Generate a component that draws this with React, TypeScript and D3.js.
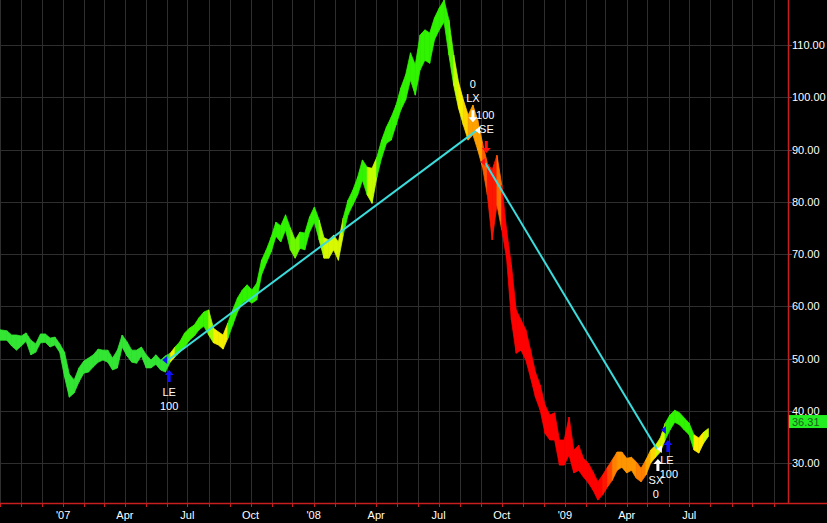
import React from "react";
import * as d3 from "d3";

const WIDTH = 827;
const HEIGHT = 523;
const PLOT_RIGHT = 788;
const PLOT_BOTTOM = 503;

// weekly bars, first one dated (Wednesday) 2006-10-04
const firstWeek = "2006-10-04";
const weeklyHigh = [
  55.5, 55.3, 54.5, 54.5, 54.3, 54.9, 53.5, 52.8, 54.7, 54.7,
  53.9, 54.1, 52.8, 51.2, 47.0, 45.9, 48.2, 49.5, 50.1, 50.7,
  51.8, 51.6, 51.6, 50.1, 51.6, 54.5, 53.2, 51.6, 51.6, 52.2,
  50.7, 49.7, 50.7, 49.7, 50.5, 51.0, 52.2, 53.2, 54.9, 55.8,
  56.4, 57.8, 58.9, 59.3, 55.8, 55.1, 54.5, 56.8, 59.3, 61.6,
  63.1, 64.1, 63.1, 64.4, 68.8, 70.8, 73.2, 76.1, 75.4, 77.5,
  75.0, 72.7, 74.2, 74.0, 77.1, 79.0, 76.5, 73.1, 72.7, 73.6,
  72.3, 76.9, 80.3, 82.2, 84.7, 88.0, 86.6, 86.4, 88.5, 91.8,
  94.3, 96.2, 98.5, 101.8, 104.3, 108.5, 106.2, 111.9, 112.9, 112.3,
  115.2, 117.1, 118.6, 114.8, 108.1, 102.9, 99.5, 96.6, 98.5, 95.6,
  91.2, 87.4, 86.1, 88.9, 83.2, 74.6, 67.9, 59.3, 57.4, 55.5,
  51.6, 47.4, 44.9, 41.1, 39.2, 39.6, 34.4, 34.4, 38.8, 32.5,
  33.4, 30.9, 30.0, 28.3, 26.4, 27.7, 29.2, 30.6, 32.1, 32.1,
  30.9, 31.1, 30.2, 29.0, 30.6, 32.5, 33.4, 34.8, 37.6, 39.2,
  40.1, 39.6, 38.6, 37.6, 35.4, 34.8, 35.9, 36.6,
];
const weeklyLow = [
  53.5, 53.5, 52.4, 51.6, 52.4, 53.3, 50.7, 51.2, 53.0, 53.1,
  52.2, 52.6, 51.2, 46.5, 42.6, 43.4, 45.5, 47.2, 47.4, 48.4,
  49.3, 49.7, 49.3, 47.8, 48.2, 52.2, 50.5, 49.3, 49.1, 50.5,
  48.2, 48.2, 48.9, 47.8, 47.4, 49.3, 50.3, 51.2, 52.2, 53.5,
  54.3, 55.5, 56.2, 54.5, 53.0, 52.6, 51.8, 53.9, 56.4, 58.9,
  60.6, 61.2, 60.6, 61.2, 66.0, 68.3, 70.4, 73.4, 72.3, 74.6,
  70.8, 69.2, 71.1, 70.8, 74.2, 76.1, 72.7, 69.2, 69.2, 70.8,
  68.8, 73.6, 77.5, 79.4, 81.3, 84.1, 81.3, 79.7, 84.7, 88.4,
  91.2, 91.8, 94.7, 97.6, 99.5, 103.3, 100.4, 105.2, 107.1, 106.5,
  111.0, 112.9, 114.4, 108.1, 102.3, 97.9, 94.7, 91.8, 92.8, 89.9,
  86.6, 81.3, 72.7, 79.4, 74.6, 69.2, 57.4, 51.0, 51.6, 49.7,
  46.3, 42.6, 40.1, 35.7, 34.4, 34.4, 29.6, 29.6, 31.5, 28.1,
  28.6, 27.3, 26.2, 24.8, 22.9, 23.9, 25.4, 26.7, 28.6, 29.2,
  28.1, 28.6, 27.1, 26.4, 27.7, 30.0, 31.1, 32.1, 34.4, 36.3,
  37.8, 37.3, 36.3, 35.4, 32.5, 31.9, 33.8, 35.1,
];
// bar colouring score (0 = red, 1 = green), one per bar from the first long entry (bar 35) on
const entryBar = 35;
const trendScore = [
  0.62, 0.85, 0.85, 0.85, 0.85, 0.85, 0.85, 0.85, 0.75, 0.62, // 35-44
  0.62, 0.62, 0.88, 0.88, 0.88, 0.88, 0.88, 0.88, 0.88, 0.88, // 45-54
  0.88, 0.88, 0.88, 0.88, 0.88, 0.8, 0.8, 0.88, 0.88, 0.88, // 55-64
  0.88, 0.75, 0.68, 0.68, 0.68, 0.68, 0.9, 0.9, 0.9, 0.9, // 65-74
  0.9, 0.72, 0.72, 0.92, 0.92, 0.92, 0.92, 0.92, 0.92, 0.92, // 75-84
  0.92, 0.92, 0.92, 0.92, 0.92, 0.92, 0.92, 0.92, 0.82, 0.72, // 85-94
  0.62, 0.55, 0.42, 0.42, 0.42, 0.2, 0.05, 0.05, 0.25, 0.0, // 95-104
  0.0, 0.0, 0.0, 0.0, 0.0, 0.0, 0.0, 0.0, 0.0, 0.0, // 105-114
  0.0, 0.0, 0.0, 0.0, 0.0, 0.0, 0.0, 0.0, 0.0, 0.0, // 115-124
  0.05, 0.15, 0.3, 0.38, 0.38, 0.38, 0.38, 0.3, 0.3, 0.45, // 125-134
  0.55, 0.68, 0.68, 0.92, 0.92, 0.92, 0.92, 0.92, 0.92, 0.6, // 135-144
  0.6, 0.7, 0.7, // 145-147
];

const yTicks = [30, 40, 50, 60, 70, 80, 90, 100, 110];
const lastPrice = 36.31;

const tradeEntryDates = ["2007-06-03", "2008-09-07"];
const tradeEntryPrices = [49.7, 87.4];
const tradeExitDates = ["2008-08-26", "2009-05-15"];
const tradeExitPrices = [93.7, 32.7];
const secondLongDate = "2009-05-31";
const secondLongPrice = 36.3;
const longExitDate = "2008-08-20";

const parse = d3.timeParse("%Y-%m-%d");
const FONT = "'Liberation Sans', Arial, sans-serif";

const x = d3
  .scaleTime()
  .domain([new Date(2006, 9, 1), new Date(2009, 10, 22)])
  .range([0, PLOT_RIGHT]);
const y = d3.scaleLinear().domain([30, 110]).range([463, 45]);

const colorRamp = d3
  .scaleLinear<string>()
  .domain([0, 0.25, 0.45, 0.6, 0.72, 0.86])
  .range(["#ff0000", "#ff7000", "#ffaa00", "#ffee00", "#c4ff00", "#30f400"])
  .clamp(true);
const preEntryColor = "#33e633";

function arrowPath(cx: number, tipY: number, dir: 1 | -1) {
  const p = [
    [0, 0], [-4.5, 5], [-1.5, 5], [-1.5, 12], [1.5, 12], [1.5, 5], [4.5, 5],
  ];
  return (
    "M" +
    p.map(([dx, dy]) => `${cx + dx},${tipY + dir * dy}`).join("L") +
    "Z"
  );
}
function leftTri(cx: number, cy: number) {
  return `M${cx - 3},${cy}L${cx + 2},${cy - 4}L${cx + 2},${cy + 4}Z`;
}

export default function App() {
  const start = parse(firstWeek)!;
  const dates = weeklyHigh.map((_, i) => d3.timeDay.offset(start, 7 * i));
  const xs = dates.map((d) => x(d));
  const colorOf = (i: number) =>
    i < entryBar ? preEntryColor : colorRamp(trendScore[i - entryBar]);

  const months = d3.timeMonth.range(new Date(2006, 9, 1), new Date(2009, 10, 22));
  const labelMonths = months.filter(
    (m) => m.getMonth() % 3 === 0 && m >= new Date(2007, 0, 1) && m <= new Date(2009, 6, 1)
  );
  const quarterLabel = (d: Date) =>
    d.getMonth() === 0 ? "'" + d3.timeFormat("%y")(d) : d3.timeFormat("%b")(d);

  const polys = [];
  for (let i = 0; i < xs.length - 1; i++) {
    const x0 = i === 0 ? 0 : xs[i];
    const x1 = xs[i + 1];
    const pts = [
      [x0, y(weeklyHigh[i])],
      [x1, y(weeklyHigh[i + 1])],
      [x1, y(weeklyLow[i + 1])],
      [x0, y(weeklyLow[i])],
    ];
    const c = colorOf(i);
    polys.push(
      <polygon
        key={i}
        points={pts.map((p) => p.join(",")).join(" ")}
        fill={c}
        stroke={c}
        strokeWidth={0.8}
        strokeLinejoin="round"
      />
    );
  }

  const le1x = x(parse(tradeEntryDates[0])!);
  const le1y = y(tradeEntryPrices[0]);
  const lxX = x(parse(longExitDate)!);
  const lxY = y(tradeExitPrices[0]);
  const seX = x(parse(tradeExitDates[0])!);
  const seY = y(tradeExitPrices[0]);
  const shX = x(parse(tradeEntryDates[1])!);
  const shY = y(tradeEntryPrices[1]);
  const sxX = x(parse(tradeExitDates[1])!);
  const sxY = y(tradeExitPrices[1]);
  const le2x = x(parse(secondLongDate)!);
  const le2y = y(secondLongPrice);

  const txt = (props: any, s: string) => (
    <text fontFamily={FONT} fontSize={11} fill="#ffffff" dominantBaseline="central" {...props}>
      {s}
    </text>
  );

  return (
    <svg
      width={WIDTH}
      height={HEIGHT}
      style={{ position: "absolute", left: 0, top: 0, background: "#000" }}
    >
      <rect x={0} y={0} width={WIDTH} height={HEIGHT} fill="#000" />
      {months.map((m, i) => (
        <line
          key={"vg" + i}
          x1={Math.round(x(m)) + 0.5}
          x2={Math.round(x(m)) + 0.5}
          y1={0}
          y2={PLOT_BOTTOM}
          stroke="#2e2e2e"
          strokeWidth={1}
        />
      ))}
      {yTicks.map((t) => (
        <line
          key={"hg" + t}
          x1={0}
          x2={PLOT_RIGHT}
          y1={Math.round(y(t)) + 0.5}
          y2={Math.round(y(t)) + 0.5}
          stroke="#2e2e2e"
          strokeWidth={1}
        />
      ))}

      {polys}

      {tradeEntryDates.map((d, i) => (
        <line
          key={"tl" + i}
          x1={x(parse(d)!)}
          y1={y(tradeEntryPrices[i])}
          x2={x(parse(tradeExitDates[i])!)}
          y2={y(tradeExitPrices[i])}
          stroke="#3cdcdc"
          strokeWidth={2}
        />
      ))}

      <path d={leftTri(le1x - 3, le1y)} fill="#1010ff" />
      <path d={arrowPath(le1x + 1, le1y + 10, 1)} fill="#1010ff" />
      {txt({ x: le1x + 1, y: le1y + 32, textAnchor: "middle" }, "LE")}
      {txt({ x: le1x + 1, y: le1y + 46, textAnchor: "middle" }, "100")}

      <path d={arrowPath(lxX, lxY - 8, -1)} fill="#ffffff" />
      {txt({ x: lxX, y: lxY - 32, textAnchor: "middle" }, "LX")}
      {txt({ x: lxX, y: lxY - 46, textAnchor: "middle" }, "0")}

      <path d={leftTri(seX + 1, seY)} fill="#ffffff" />
      {txt({ x: seX - 1, y: seY - 15 }, "100")}
      {txt({ x: seX + 2, y: seY - 1 }, "SE")}
      <path d={arrowPath(shX + 1, shY - 10, -1)} fill="#ff1010" />
      <path d={leftTri(shX - 2, shY - 1)} fill="#ff1010" />

      <path d={leftTri(sxX + 3, sxY)} fill="#ffffff" />
      <path d={arrowPath(sxX + 1, sxY + 10, 1)} fill="#ffffff" />
      {txt({ x: sxX - 1, y: sxY + 31, textAnchor: "middle" }, "SX")}
      {txt({ x: sxX - 1, y: sxY + 45, textAnchor: "middle" }, "0")}

      <path d={leftTri(le2x - 4, le2y)} fill="#1010ff" />
      <path d={arrowPath(le2x, le2y + 10, 1)} fill="#1010ff" />
      {txt({ x: le2x - 1, y: le2y + 30, textAnchor: "middle" }, "LE")}
      {txt({ x: le2x + 1, y: le2y + 44, textAnchor: "middle" }, "100")}

      <line x1={0} x2={WIDTH} y1={PLOT_BOTTOM + 0.5} y2={PLOT_BOTTOM + 0.5} stroke="#c81e1e" strokeWidth={1.5} />
      <line x1={PLOT_RIGHT + 0.5} x2={PLOT_RIGHT + 0.5} y1={0} y2={PLOT_BOTTOM} stroke="#c81e1e" strokeWidth={1.5} />
      {months.map((m, i) => (
        <line
          key={"xt" + i}
          x1={Math.round(x(m)) + 0.5}
          x2={Math.round(x(m)) + 0.5}
          y1={PLOT_BOTTOM}
          y2={PLOT_BOTTOM + 4}
          stroke="#c81e1e"
        />
      ))}
      {labelMonths.map((m, i) => (
        <text
          key={"xl" + i}
          x={x(m)}
          y={515}
          textAnchor="middle"
          dominantBaseline="central"
          fontFamily={FONT}
          fontSize={11}
          fill="#ffffff"
        >
          {quarterLabel(m)}
        </text>
      ))}
      {yTicks.map((t) => (
        <g key={"yt" + t}>
          <line
            x1={PLOT_RIGHT}
            x2={PLOT_RIGHT + 4}
            y1={Math.round(y(t)) + 0.5}
            y2={Math.round(y(t)) + 0.5}
            stroke="#8a3a3a"
          />
          <text
            x={PLOT_RIGHT + 4}
            y={y(t)}
            dominantBaseline="central"
            fontFamily={FONT}
            fontSize={11}
            fill="#ffffff"
          >
            {d3.format(".2f")(t)}
          </text>
        </g>
      ))}
      <rect
        x={PLOT_RIGHT + 1}
        y={y(lastPrice) - 15}
        width={WIDTH - PLOT_RIGHT - 1}
        height={13}
        fill="#22ee22"
      />
      <text
        x={PLOT_RIGHT + 4}
        y={y(lastPrice) - 8.5}
        dominantBaseline="central"
        fontFamily={FONT}
        fontSize={11}
        fill="#1e5a1e"
      >
        {d3.format(".2f")(lastPrice)}
      </text>
    </svg>
  );
}
